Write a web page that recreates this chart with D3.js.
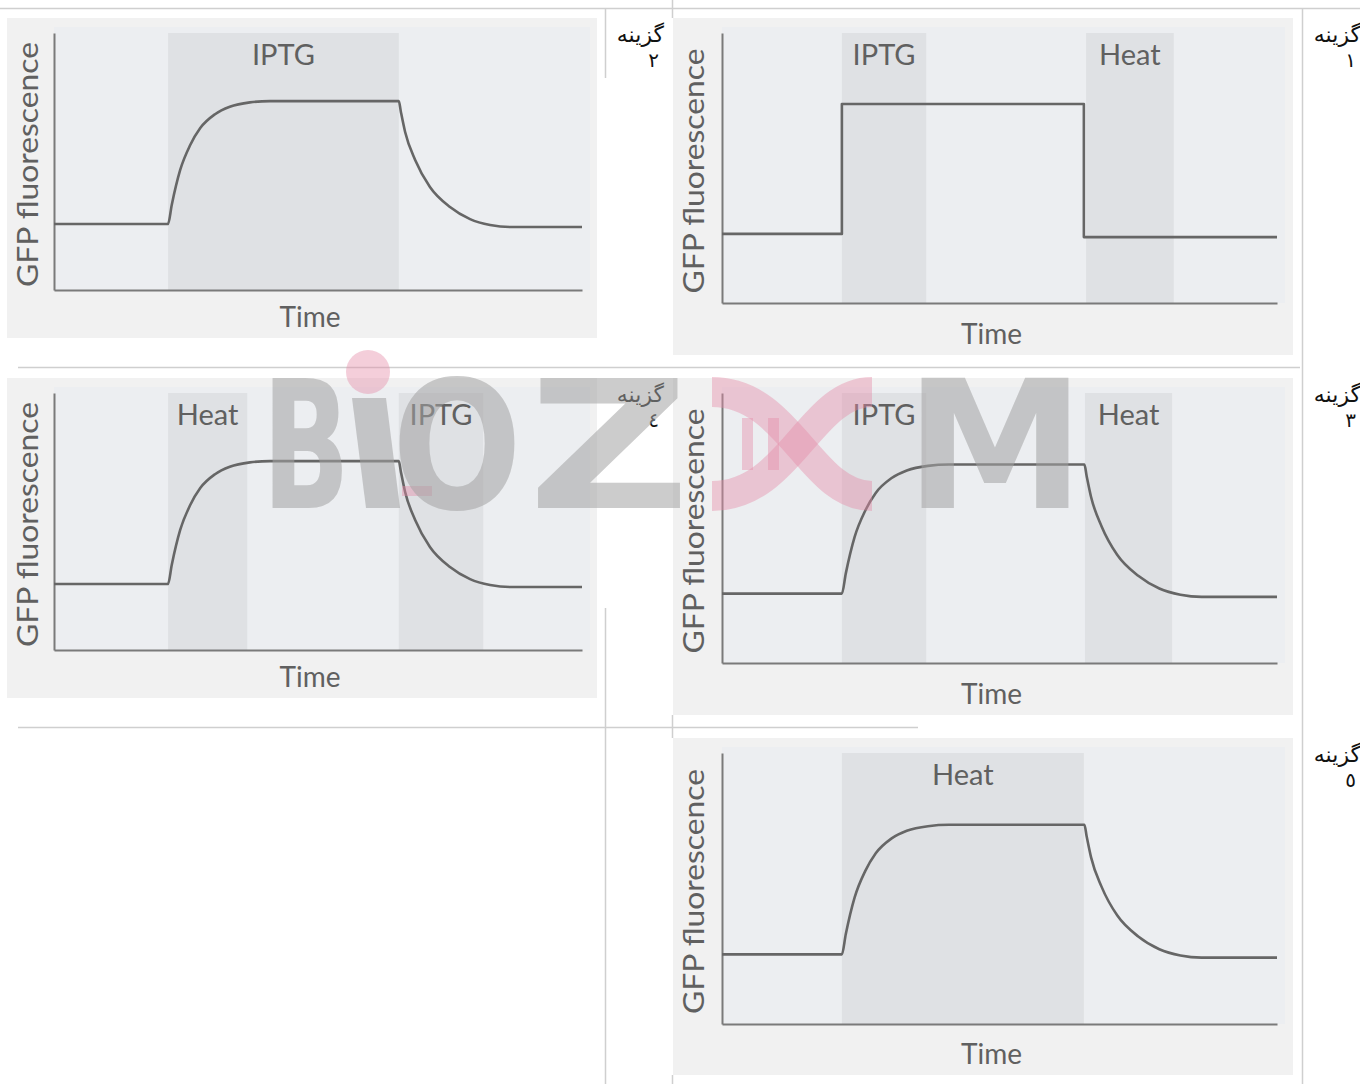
<!DOCTYPE html>
<html><head><meta charset="utf-8">
<script src="https://cdn.jsdelivr.net/npm/d3@7"></script>
<style>body{margin:0;background:#fff} svg{display:block}</style>
</head><body>
<script>
// ---------- data ----------
const optionWord = "گزینه";
const optionNumbers = ["۱", "۲", "۳", "٤", "٥"];
const yAxisTitle = "GFP fluorescence";
const xAxisTitle = "Time";
const bandLabels = [["IPTG", "Heat"], ["IPTG"], ["IPTG", "Heat"], ["Heat", "IPTG"], ["Heat"]];
const bandStarts = [[21.6, 65.6], [21.6], [21.6, 65.4], [21.6, 65.3], [21.6]];
const bandEnds   = [[36.8, 81.4], [65.3], [36.8, 81.1], [36.6, 81.3], [65.2]];
const responseKind = ["step", "gradual", "gradual", "gradual", "gradual"];
// gradual response
const gradualTime = [0, 21.6, 22.3, 23.9, 25.8, 27.7, 30.5, 33.3, 37.1, 40.9, 65.3, 65.7, 66.5, 68.4, 71.2, 75.0, 78.8, 82.6, 86.4, 100];
const gradualGFP  = [25.7, 25.7, 33.1, 46.7, 56.4, 63.0, 68.4, 71.3, 73.0, 73.5, 73.5, 69.3, 61.5, 50.6, 40.1, 32.3, 27.6, 25.3, 24.5, 24.5];
// step response
const stepTime = [0, 21.6, 21.6, 65.2, 65.2, 100];
const stepGFP  = [25.6, 25.6, 73.7, 73.7, 24.4, 24.4];

// ---------- layout ----------
const layout = [
  {ox: 673, oy: 18,  ow: 620, oh: 337, ax: 722, xEnd: 1277, yTop: 33,  yBot: 303, lx: 1361, ly: 18},
  {ox: 7,   oy: 18,  ow: 590, oh: 320, ax: 54,  xEnd: 582,  yTop: 33,  yBot: 290, lx: 664,  ly: 18},
  {ox: 673, oy: 378, ow: 620, oh: 337, ax: 722, xEnd: 1277, yTop: 393, yBot: 663, lx: 1361, ly: 378},
  {ox: 7,   oy: 378, ow: 590, oh: 320, ax: 54,  xEnd: 582,  yTop: 393, yBot: 650, lx: 664,  ly: 378},
  {ox: 673, oy: 738, ow: 620, oh: 337, ax: 722, xEnd: 1277, yTop: 753, yBot: 1024, lx: 1361, ly: 738}
];

const W = 1360, H = 1084;
const svg = d3.select("body").append("svg").attr("width", W).attr("height", H);
svg.append("rect").attr("width", W).attr("height", H).attr("fill", "#fff");

// table lines
const tbl = svg.append("g").attr("stroke", "#cfcfcf").attr("stroke-width", 1.5);
[[0, 8.5, 1360, 8.5], [18, 367.5, 1300, 367.5], [18, 727.5, 918, 727.5],
 [605.5, 8, 605.5, 78], [605.5, 608, 605.5, 1084],
 [672.5, 0, 672.5, 18], [672.5, 715, 672.5, 738], [672.5, 1075, 672.5, 1084],
 [1302.5, 8, 1302.5, 1084]].forEach(l =>
  tbl.append("line").attr("x1", l[0]).attr("y1", l[1]).attr("x2", l[2]).attr("y2", l[3]));

const font = "Lato, 'Open Sans', sans-serif";
const txtCol = "#606060";

layout.forEach((L, i) => {
  const g = svg.append("g");
  const x = d3.scaleLinear().domain([0, 100]).range([L.ax, L.xEnd]);
  const y = d3.scaleLinear().domain([0, 100]).range([L.yBot, L.yTop]);

  g.append("rect").attr("x", L.ox).attr("y", L.oy).attr("width", L.ow).attr("height", L.oh).attr("fill", "#f1f1f1");
  g.append("rect").attr("x", L.ax).attr("y", L.yTop - 6).attr("width", L.xEnd - L.ax + 8)
    .attr("height", L.yBot - L.yTop + 6).attr("fill", "#eceef1");

  // bands
  bandLabels[i].forEach((lab, j) => {
    const x0 = x(bandStarts[i][j]), x1 = x(bandEnds[i][j]);
    g.append("rect").attr("x", x0).attr("y", L.yTop).attr("width", x1 - x0)
      .attr("height", L.yBot - L.yTop).attr("fill", "#dfe1e4");
    g.append("text").attr("x", (x0 + x1) / 2).attr("y", L.yTop + 32)
      .attr("text-anchor", "middle").attr("font-family", font).attr("font-size", 29)
      .attr("fill", txtCol).text(lab);
  });

  // axes
  const xAxis = d3.axisBottom(x).tickValues([]).tickSizeOuter(0);
  const yAxis = d3.axisLeft(y).tickValues([]).tickSizeOuter(0);
  g.append("g").attr("transform", `translate(0,${L.yBot})`).call(xAxis)
    .select(".domain").attr("stroke", "#7a7a7a").attr("stroke-width", 2);
  g.append("g").attr("transform", `translate(${L.ax},0)`).call(yAxis)
    .select(".domain").attr("stroke", "#7a7a7a").attr("stroke-width", 2);

  // curve
  const isStep = responseKind[i] === "step";
  const ts = isStep ? stepTime : gradualTime;
  const vs = isStep ? stepGFP : gradualGFP;
  const pts = ts.map((t, k) => [t, vs[k]]);
  const line = d3.line().x(d => x(d[0])).y(d => y(d[1]))
    .curve(isStep ? d3.curveLinear : d3.curveMonotoneX);
  g.append("path").attr("d", line(pts)).attr("fill", "none")
    .attr("stroke", "#666").attr("stroke-width", 2.6).attr("stroke-linejoin", "round");

  // axis titles
  g.append("text").attr("x", (L.ax + L.xEnd) / 2 - 8).attr("y", L.oy + L.oh - 11)
    .attr("text-anchor", "middle").attr("font-family", font).attr("font-size", 28)
    .attr("fill", txtCol).text(xAxisTitle);
  const cy = (L.yTop + L.yBot) / 2 + 3;
  g.append("text").attr("transform", `translate(${L.ox + 31},${cy}) rotate(-90)`)
    .attr("text-anchor", "middle").attr("font-family", font).attr("font-size", 28)
    .attr("textLength", 245).attr("lengthAdjust", "spacingAndGlyphs")
    .attr("fill", txtCol).text(yAxisTitle);

  // option label
  g.append("text").attr("x", L.lx).attr("y", L.ly + 24).attr("text-anchor", "end")
    .attr("font-family", "'Times New Roman', 'DejaVu Sans', serif").attr("font-size", 22)
    .attr("fill", "#111").text(optionWord);
  g.append("text").attr("x", L.lx - 5).attr("y", L.ly + 49).attr("text-anchor", "end")
    .attr("font-family", "'Times New Roman', 'DejaVu Sans', serif").attr("font-size", 20)
    .attr("fill", "#111").text(optionNumbers[i]);
});

// watermark
const wm = svg.append("g");
const grey = "#a2a2a2", pink = "#e58aa8";
const gOp = 0.55, pOp = 0.42;
const wmFont = "'DejaVu Sans', sans-serif";
function wl(ch, x0, w) {
  wm.append("text").attr("x", x0).attr("y", 508).attr("font-family", wmFont).attr("font-weight", "bold")
    .attr("font-size", 178).attr("textLength", w).attr("lengthAdjust", "spacingAndGlyphs")
    .attr("fill", grey).attr("fill-opacity", gOp).text(ch);
}
wl("B", 262, 88);
wm.append("circle").attr("cx", 368).attr("cy", 372).attr("r", 22).attr("fill", pink).attr("fill-opacity", pOp);
wm.append("path").attr("d", "M352,398 L386,398 L400,508 L366,508 Z").attr("fill", grey).attr("fill-opacity", gOp);
wm.append("rect").attr("x", 402).attr("y", 486).attr("width", 30).attr("height", 10).attr("fill", pink).attr("fill-opacity", pOp);
wl("O", 392, 130);
wl("Z", 528, 162);
wm.append("path").attr("d", "M712,392 C790,392 810,496 872,496").attr("fill", "none")
  .attr("stroke", pink).attr("stroke-opacity", pOp).attr("stroke-width", 30);
wm.append("path").attr("d", "M712,496 C790,496 810,392 872,392").attr("fill", "none")
  .attr("stroke", pink).attr("stroke-opacity", pOp).attr("stroke-width", 30);
[742, 768].forEach(rx => wm.append("rect").attr("x", rx).attr("y", 418).attr("width", 11).attr("height", 52)
  .attr("fill", pink).attr("fill-opacity", pOp));
wl("M", 905, 180);
</script>
</body></html>
